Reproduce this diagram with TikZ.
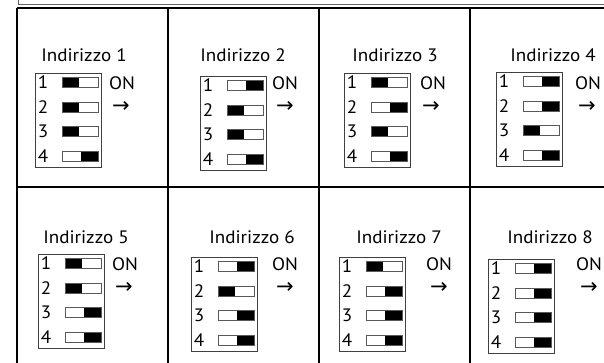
\documentclass[tikz,border=0pt]{standalone}
\usepackage{fontspec}
\setmainfont[FakeStretch=1.06]{PT Sans}
\newfontfamily\arrowfont{DejaVu Sans}
\usetikzlibrary{calc}

% one address cell: id, label at, box corner, switch states (1 = ON), ON at, arrow at
\newcommand{\dipcell}[6]{%
  \node[lbl] (l#1) at (#2) {Indirizzo #1};
  \node[dipbox,anchor=north west] (b#1) at (#3) {};
  \foreach \st [count=\i] in {#4} {
    \node[num] (n#1\i) at ($(b#1.north west)+(8,{9.5+24.5*(\i-1)})$) {\i};
    \node[sw=\st] (s#1\i) at ($(b#1.north west)+(45,{9.5+24.5*(\i-1)})$) {};
  }
  \node[lbl] (on#1) at (#5) {ON};
  \node[arr] (ar#1) at (#6) {→};
}

\begin{document}
\begin{tikzpicture}[
  x=1pt,y=-1pt,
  lbl/.style={inner sep=0pt,font=\fontsize{18}{20}\selectfont},
  num/.style={lbl},
  arr/.style={inner sep=0pt,font=\arrowfont\fontsize{21}{21}\selectfont},
  dipbox/.style={draw=black!75,line width=0.8pt,minimum width=66pt,minimum height=94pt,inner sep=0pt},
  sw/.style={draw=black!65,line width=0.6pt,minimum width=36pt,minimum height=10pt,inner sep=0pt,
    path picture={\fill[black] ($(path picture bounding box.north west)+({#1*19},0)$) rectangle ++(17,10);}},
  grid/.style={line width=1.4pt,black},
  topbox/.style={draw=black!60,line width=1.2pt}
]
\useasboundingbox (0,0) rectangle (604,362);
\clip (0,0) rectangle (604,362);
% ---- frame ----
\draw[topbox] (18.5,-20) rectangle (640,4.5);
\draw[grid] (17,8) -- (640,8);
\draw[grid] (17,187) -- (640,187);
\foreach \cx in {17,168,319,470}
  \draw[grid] (\cx,8) -- (\cx,380);
% ---- row 1 ----
\dipcell{1}{84,55}{35,73}{0,0,0,1}{122,83}{121,107}
\dipcell{2}{243,55}{200,76}{1,0,0,1}{285,83}{285,107}
\dipcell{3}{395,55}{344,73}{0,1,0,1}{433,83}{431,107}
\dipcell{4}{553,55}{496,72}{1,1,0,1}{588,83}{587,107}
% ---- row 2 ----
\dipcell{5}{86,237}{38,254}{0,0,1,1}{125,264}{124,288}
\dipcell{6}{252,237}{191,257}{1,0,1,1}{285,264}{285,288}
\dipcell{7}{399,237}{339,257}{0,1,1,1}{439,264}{439,288}
\dipcell{8}{550,237}{488,259}{1,1,1,1}{589,264}{589,288}
\end{tikzpicture}
\end{document}
